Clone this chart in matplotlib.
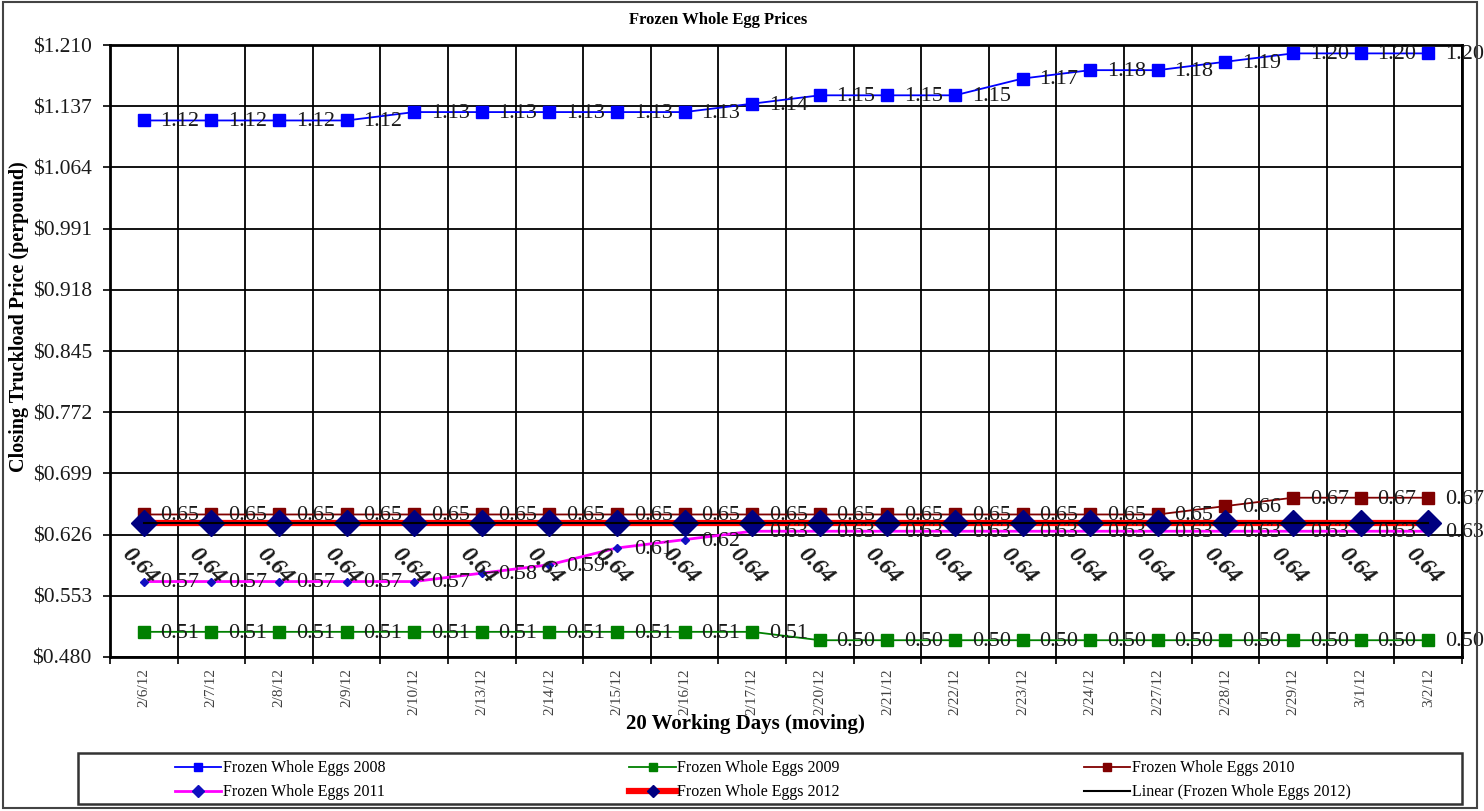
import matplotlib
matplotlib.use("Agg")
import matplotlib.pyplot as plt
import numpy as np
from matplotlib.patches import Rectangle

plt.rcParams.update({
    'font.family': ['Liberation Serif', 'DejaVu Serif'],
    'axes.linewidth': 2.0,
})

# --- data ---
dates = ["2/6/12", "2/7/12", "2/8/12", "2/9/12", "2/10/12", "2/13/12", "2/14/12",
         "2/15/12", "2/16/12", "2/17/12", "2/20/12", "2/21/12", "2/22/12", "2/23/12",
         "2/24/12", "2/27/12", "2/28/12", "2/29/12", "3/1/12", "3/2/12"]
eggs_2008 = [1.12, 1.12, 1.12, 1.12, 1.13, 1.13, 1.13, 1.13, 1.13, 1.14,
             1.15, 1.15, 1.15, 1.17, 1.18, 1.18, 1.19, 1.20, 1.20, 1.20]
eggs_2009 = [0.51, 0.51, 0.51, 0.51, 0.51, 0.51, 0.51, 0.51, 0.51, 0.51,
             0.50, 0.50, 0.50, 0.50, 0.50, 0.50, 0.50, 0.50, 0.50, 0.50]
eggs_2010 = [0.65, 0.65, 0.65, 0.65, 0.65, 0.65, 0.65, 0.65, 0.65, 0.65,
             0.65, 0.65, 0.65, 0.65, 0.65, 0.65, 0.66, 0.67, 0.67, 0.67]
eggs_2011 = [0.57, 0.57, 0.57, 0.57, 0.57, 0.58, 0.59, 0.61, 0.62, 0.63,
             0.63, 0.63, 0.63, 0.63, 0.63, 0.63, 0.63, 0.63, 0.63, 0.63]
eggs_2012 = [0.64] * 20
y_ticks = [0.480, 0.553, 0.626, 0.699, 0.772, 0.845, 0.918, 0.991, 1.064, 1.137, 1.210]

x = np.arange(len(dates))

fig = plt.figure(figsize=(14.84, 8.11), dpi=100)
ax = fig.add_axes([0.0741, 0.1899, 0.9111, 0.7546])

l08, = ax.plot(x, eggs_2008, color='#0000FF', lw=1.3, marker='s', ms=8,
               mfc='#0000FF', mec='#0000FF', label='Frozen Whole Eggs 2008', zorder=3)
l09, = ax.plot(x, eggs_2009, color='#008000', lw=1.3, marker='s', ms=8,
               mfc='#008000', mec='#008000', label='Frozen Whole Eggs 2009', zorder=3)
l10, = ax.plot(x, eggs_2010, color='#800000', lw=1.3, marker='s', ms=8,
               mfc='#800000', mec='#800000', label='Frozen Whole Eggs 2010', zorder=3)
l11, = ax.plot(x, eggs_2011, color='#FF00FF', lw=2.0, marker='D', ms=4,
               mfc='#1010C0', mec='#1010C0', label='Frozen Whole Eggs 2011', zorder=3)
l12, = ax.plot(x, eggs_2012, color='#FF0000', lw=4.5, marker='D', ms=13,
               mfc='#000080', mec='#000080', label='Frozen Whole Eggs 2012', zorder=4)

# linear trendline of the 2012 series
coef = np.polyfit(x, eggs_2012, 1)
ltr, = ax.plot(x, np.polyval(coef, x), color='black', lw=1.5,
               label='Linear (Frozen Whole Eggs 2012)', zorder=5)

# data labels
for series in [eggs_2008, eggs_2009, eggs_2010, eggs_2011]:
    for xi, v in zip(x, series):
        ax.annotate(f'{v:.2f}', (xi, v), xytext=(12, -1), textcoords='offset points',
                    ha='left', va='center', fontsize=16, color='#1a1a1a', zorder=6)
for xi, v in zip(x, eggs_2012):
    ax.annotate(f'{v:.2f}', (xi, v), xytext=(-3, -31), textcoords='offset points',
                ha='center', va='center', fontsize=17, fontweight='bold', style='italic',
                rotation=-45, color='#1a1a1a', zorder=6)

ax.set_xlim(-0.5, len(dates) - 0.5)
ax.set_ylim(y_ticks[0], y_ticks[-1])
ax.set_yticks(y_ticks)
ax.set_yticklabels([f'${t:.3f}' for t in y_ticks], fontsize=15.5, color='#1a1a1a')
ax.set_xticks(x)
ax.set_xticklabels(dates, rotation=90, fontsize=11, color='#404040')
ax.set_xticks(np.arange(-0.5, len(dates)), minor=True)
ax.tick_params(axis='x', which='major', length=0, pad=8)
ax.tick_params(axis='x', which='minor', length=5, width=1.2, direction='out')
ax.tick_params(axis='y', length=5, width=1.2, direction='out', pad=8)
ax.grid(True, which='minor', axis='x', color='black', lw=1.3)
ax.grid(True, which='major', axis='y', color='black', lw=1.3)
ax.set_axisbelow(True)

fig.text(0.484, 0.975, 'Frozen Whole Egg Prices', ha='center', va='center',
         fontsize=12, fontweight='bold')
fig.text(0.502, 0.107, '20 Working Days (moving)', ha='center', va='center',
         fontsize=15, fontweight='bold')
fig.text(0.013, 0.61, 'Closing Truckload Price (perpound)', ha='center', va='center',
         rotation=90, fontsize=14.5, fontweight='bold')

# legend box and entries
fig.patches.append(Rectangle((0.0526, 0.0086), 0.9326, 0.0629, transform=fig.transFigure,
                             fill=False, edgecolor='#333333', lw=1.8))
handles = [l08, l11, l09, l12, l10, ltr]
leg = fig.legend(handles, [h.get_label() for h in handles], ncol=3,
                 loc='center', bbox_to_anchor=(0.514, 0.038),
                 fontsize=11.5, frameon=False, handlelength=2.9, handletextpad=0.1,
                 columnspacing=15.3, borderaxespad=0, labelspacing=0.5)
for h in leg.legend_handles:
    h.set_markersize(6)

fig.patches.append(Rectangle((0.002, 0.004), 0.993, 0.993, transform=fig.transFigure,
                             fill=False, edgecolor='#444444', lw=1.5))

fig.savefig('out.png', dpi=100)
